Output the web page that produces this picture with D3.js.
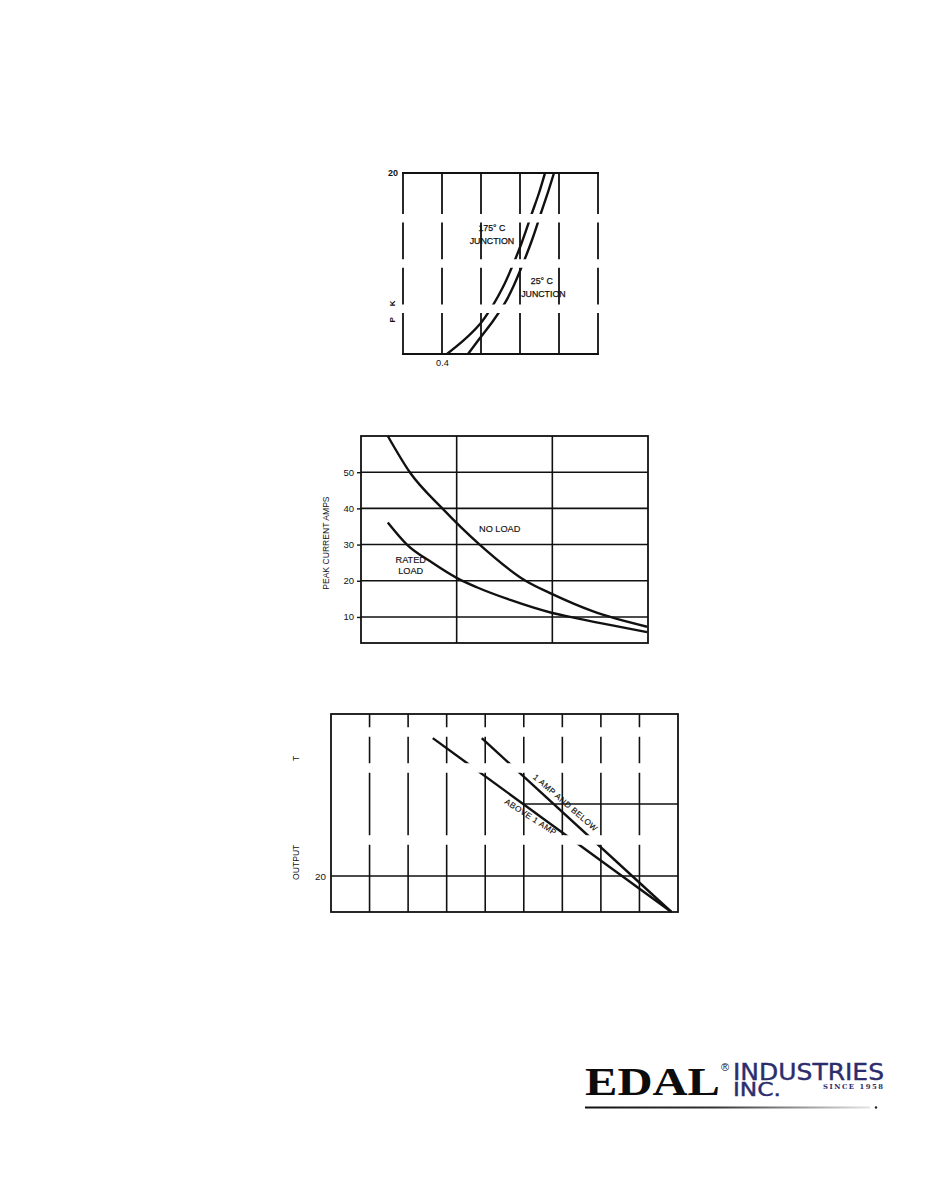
<!DOCTYPE html>
<html><head><meta charset="utf-8">
<script src="https://cdn.jsdelivr.net/npm/d3@7"></script>
<style>
html,body{margin:0;padding:0;background:#fff;}
svg{display:block;}
</style></head><body>
<svg id="c" width="930" height="1197" font-family="Liberation Sans, Arial, sans-serif" fill="#111"></svg>
<script>
// ---------- Chart 1 (top) ----------
const c1Cols = [0, 1, 2, 3, 4, 5];
const c1YDomain = [0, 20];
const c1XTickValues = [1];
const c1XTickLabels = ["0.4"];
const c1YTickValues = [20];
const c1YTickLabels = ["20"];
const c1ErasedRows = [5, 10, 15];
const c1Junction175 = [[1.128,0],[1.538,1.44],[1.974,3.31],[2.308,5.41],[2.564,7.40],[2.795,9.61],[3.051,12.38],[3.308,15.58],[3.487,17.79],[3.641,20]];
const c1Junction25  = [[1.667,0],[1.974,1.77],[2.308,3.65],[2.615,5.64],[2.846,7.62],[3.051,9.72],[3.308,12.60],[3.538,15.58],[3.718,17.90],[3.872,20]];

// ---------- Chart 2 (middle) ----------
const c2Cols = [0, 1, 2, 3];
const c2YDomain = [2.8, 60];
const c2YTicks = [10, 20, 30, 40, 50];
const c2NoLoad = [[0.28,60],[0.51,50],[0.85,40],[1.24,30],[1.72,20],[2.0,16.3],[2.42,11.6],[2.99,7.3]];
const c2RatedLoad = [[0.28,36.1],[0.48,30],[0.75,24.9],[1.0,20.8],[1.21,18.2],[1.56,14.7],[2.0,11.1],[2.26,9.6],[2.6,7.8],[2.99,5.8]];

// ---------- Chart 3 (bottom) ----------
const c3Cols = [0, 1, 2, 3, 4, 5, 6, 7, 8, 9];
const c3YDomain = [10, 65];
const c3YTicks = [20];
const c3PartialRow = {value: 40, from: 5, to: 9};
const c3ErasedRows = [30, 50, 60];
const c3AboveOneAmp = [[2.64,58.3],[8.83,10]];
const c3OneAmpBelow = [[3.91,58.3],[8.83,10]];

const svg = d3.select("#c");
const defs = svg.append("defs");
const INK = "#111";
const SANS = "Liberation Sans, Arial, sans-serif";

function makeMask(id, rows, y, x0, x1, h) {
  const m = defs.append("mask").attr("id", id).attr("maskUnits", "userSpaceOnUse")
    .attr("x", 0).attr("y", 0).attr("width", 930).attr("height", 1197);
  m.append("rect").attr("class","bg").attr("width", 930).attr("height", 1197).attr("fill", "#fff");
  m.selectAll("rect.gap").data(rows).join("rect").attr("class","gap")
    .attr("x", x0).attr("width", x1 - x0)
    .attr("y", d => y(d) - h / 2).attr("height", h).attr("fill", "#000");
}
function styleAxisText(sel, size, weight) {
  sel.selectAll("text").attr("font-size", size).attr("fill", INK).attr("font-family", SANS)
    .attr("font-weight", weight || "normal");
}

// ===== Chart 1 =====
{
  const x = d3.scaleLinear().domain([0, 5]).range([403, 598]);
  const y = d3.scaleLinear().domain(c1YDomain).range([354, 173]);
  const g = svg.append("g");
  makeMask("m1", c1ErasedRows, y, x(0) - 5, x(5) + 5, 8.5);
  const gm = g.append("g").attr("mask", "url(#m1)");
  gm.selectAll("line.v").data(c1Cols).join("line").attr("class","v")
    .attr("x1", d => x(d)).attr("x2", d => x(d))
    .attr("y1", y(20)).attr("y2", y(0))
    .attr("stroke", INK).attr("stroke-width", 1.8);
  const ln = d3.line().x(d => x(d[0])).y(d => y(d[1])).curve(d3.curveMonotoneY);
  [c1Junction175, c1Junction25].forEach(s => {
    gm.append("path").attr("d", ln(s)).attr("fill", "none")
      .attr("stroke", INK).attr("stroke-width", 2.4);
  });
  [20, 0].forEach(v => g.append("line").attr("x1", x(0) - 1).attr("x2", x(5) + 1)
    .attr("y1", y(v)).attr("y2", y(v)).attr("stroke", INK).attr("stroke-width", 1.8));
  const ax = d3.axisBottom(x).tickValues(c1XTickValues).tickFormat((d, i) => c1XTickLabels[i]).tickSize(0).tickPadding(5);
  const axg = g.append("g").attr("transform", `translate(0,${y(0)})`).call(ax);
  axg.select(".domain").remove();
  styleAxisText(axg, 9.2);
  const ay = d3.axisLeft(y).tickValues(c1YTickValues).tickFormat((d, i) => c1YTickLabels[i]).tickSize(0).tickPadding(5);
  const ayg = g.append("g").attr("transform", `translate(${x(0)},0)`).call(ay);
  ayg.select(".domain").remove();
  styleAxisText(ayg, 9, "bold");
  g.append("text").attr("transform", `translate(395,${y(4.7)}) rotate(-90)`)
    .attr("text-anchor", "middle").attr("font-size", 8).attr("font-weight", "bold")
    .style("white-space", "pre").text("P     K");
  const lab = (t, px, py) => g.append("text").attr("x", px).attr("y", py).attr("text-anchor", "middle")
    .attr("font-size", 8.8).attr("fill", INK).attr("stroke", INK).attr("stroke-width", 0.25).text(t);
  lab("175° C", x(2.28), y(13.6));
  lab("JUNCTION", x(2.28), y(12.15));
  lab("25° C", x(3.56), y(7.7));
  lab("JUNCTION", x(3.6), y(6.25));
}

// ===== Chart 2 =====
{
  const x = d3.scaleLinear().domain([0, 3]).range([361, 648]);
  const y = d3.scaleLinear().domain(c2YDomain).range([643, 436]);
  const g = svg.append("g");
  g.selectAll("line.h").data(c2YTicks).join("line").attr("class","h")
    .attr("x1", x(0)).attr("x2", x(3)).attr("y1", d => y(d)).attr("y2", d => y(d))
    .attr("stroke", INK).attr("stroke-width", 1.6);
  g.selectAll("line.v").data(c2Cols.slice(1, -1)).join("line").attr("class","v")
    .attr("x1", d => x(d)).attr("x2", d => x(d)).attr("y1", y(60)).attr("y2", y(c2YDomain[0]))
    .attr("stroke", INK).attr("stroke-width", 1.6);
  g.append("rect").attr("x", x(0)).attr("y", y(60)).attr("width", x(3) - x(0)).attr("height", y(c2YDomain[0]) - y(60))
    .attr("fill", "none").attr("stroke", INK).attr("stroke-width", 1.8);
  const ln = d3.line().x(d => x(d[0])).y(d => y(d[1])).curve(d3.curveMonotoneX);
  [c2NoLoad, c2RatedLoad].forEach(s => g.append("path").attr("d", ln(s)).attr("fill", "none")
    .attr("stroke", INK).attr("stroke-width", 2.4));
  const ay = d3.axisLeft(y).tickValues(c2YTicks).tickSize(4).tickPadding(3);
  const ayg = g.append("g").attr("transform", `translate(${x(0)},0)`).call(ay);
  ayg.select(".domain").remove();
  ayg.selectAll("line").attr("stroke", INK).attr("stroke-width", 1.4);
  styleAxisText(ayg, 9.5);
  g.append("text").attr("transform", `translate(329,${y(30.4)}) rotate(-90)`)
    .attr("text-anchor", "middle").attr("font-size", 8.6).attr("fill", INK).text("PEAK CURRENT AMPS");
  const lab = (t, px, py) => g.append("text").attr("x", px).attr("y", py).attr("text-anchor", "middle")
    .attr("font-size", 9.2).attr("fill", INK).attr("stroke", INK).attr("stroke-width", 0.15).text(t);
  lab("NO LOAD", x(1.45), y(33.5));
  lab("RATED", x(0.52), y(24.8));
  lab("LOAD", x(0.52), y(22.0));
}

// ===== Chart 3 =====
{
  const x = d3.scaleLinear().domain([0, 9]).range([331, 678]);
  const y = d3.scaleLinear().domain(c3YDomain).range([912, 714]);
  const g = svg.append("g");
  makeMask("m3", c3ErasedRows, y, x(0) + 1.5, x(9) - 1.5, 9.5);
  const gm = g.append("g").attr("mask", "url(#m3)");
  gm.selectAll("line.v").data(c3Cols.slice(1, -1)).join("line").attr("class","v")
    .attr("x1", d => x(d)).attr("x2", d => x(d)).attr("y1", y(65)).attr("y2", y(10))
    .attr("stroke", INK).attr("stroke-width", 1.6);
  const ln = d3.line().x(d => x(d[0])).y(d => y(d[1]));
  [c3AboveOneAmp, c3OneAmpBelow].forEach(s => gm.append("path").attr("d", ln(s)).attr("fill", "none")
    .attr("stroke", INK).attr("stroke-width", 2.4));
  g.selectAll("line.h").data(c3YTicks).join("line").attr("class","h")
    .attr("x1", x(0)).attr("x2", x(9)).attr("y1", d => y(d)).attr("y2", d => y(d))
    .attr("stroke", INK).attr("stroke-width", 1.6);
  g.append("line").attr("x1", x(c3PartialRow.from)).attr("x2", x(c3PartialRow.to))
    .attr("y1", y(c3PartialRow.value)).attr("y2", y(c3PartialRow.value))
    .attr("stroke", INK).attr("stroke-width", 1.6);
  g.append("rect").attr("x", x(0)).attr("y", y(65)).attr("width", x(9) - x(0)).attr("height", y(10) - y(65))
    .attr("fill", "none").attr("stroke", INK).attr("stroke-width", 1.8);
  const ay = d3.axisLeft(y).tickValues(c3YTicks).tickSize(0).tickPadding(5);
  const ayg = g.append("g").attr("transform", `translate(${x(0)},0)`).call(ay);
  ayg.select(".domain").remove();
  styleAxisText(ayg, 9.8);
  g.append("text").attr("transform", `translate(299,${y(23.8)}) rotate(-90)`)
    .attr("text-anchor", "middle").attr("font-size", 8.6).attr("fill", INK).text("OUTPUT");
  g.append("text").attr("transform", `translate(299,${y(52.7)}) rotate(-90)`)
    .attr("text-anchor", "middle").attr("font-size", 8.6).attr("fill", INK).text("T");
  function lineLabel(s, t, off, ang, text) {
    const p0 = [x(s[0][0]), y(s[0][1])], p1 = [x(s[1][0]), y(s[1][1])];
    const dx = p1[0] - p0[0], dy = p1[1] - p0[1], L = Math.hypot(dx, dy);
    const nx = dy / L, ny = -dx / L;
    const cx = p0[0] + t * dx + nx * off, cy = p0[1] + t * dy + ny * off;
    g.append("text").attr("transform", `translate(${cx},${cy}) rotate(${ang})`)
      .attr("text-anchor", "middle").attr("dy", "0.35em").attr("font-size", 8.2)
      .attr("fill", INK).attr("stroke", INK).attr("stroke-width", 0.15)
      .attr("letter-spacing", 0.5).text(text);
  }
  lineLabel(c3OneAmpBelow, 0.41, 9, 41, "1 AMP AND BELOW");
  lineLabel(c3AboveOneAmp, 0.425, -6, 33, "ABOVE 1 AMP");
}

// ===== Logo =====
{
  const g = svg.append("g");
  const NAVY = "#2c2d6c";
  const grad = defs.append("linearGradient").attr("id", "lg").attr("x1", "0%").attr("x2", "100%");
  grad.append("stop").attr("offset", "0%").attr("stop-color", "#111");
  grad.append("stop").attr("offset", "45%").attr("stop-color", "#333");
  grad.append("stop").attr("offset", "100%").attr("stop-color", "#e4e4e4");
  g.append("text").attr("x", 585).attr("y", 1095).attr("font-family", "Liberation Serif, Times New Roman, serif")
    .attr("font-weight", "bold").attr("font-size", 41).attr("textLength", 135)
    .attr("lengthAdjust", "spacingAndGlyphs").attr("fill", "#0c0c0c").text("EDAL");
  g.append("text").attr("x", 721).attr("y", 1071).attr("font-family", SANS).attr("font-size", 11).attr("fill", "#111").text("®");
  g.append("text").attr("x", 733).attr("y", 1080).attr("font-family", "DejaVu Sans, sans-serif")
    .attr("font-size", 23).attr("textLength", 151).attr("lengthAdjust", "spacingAndGlyphs")
    .attr("fill", NAVY).attr("stroke", NAVY).attr("stroke-width", 0.4).text("INDUSTRIES");
  g.append("text").attr("x", 733).attr("y", 1096).attr("font-family", "DejaVu Sans, sans-serif")
    .attr("font-size", 19.5).attr("textLength", 48).attr("lengthAdjust", "spacingAndGlyphs")
    .attr("fill", NAVY).attr("stroke", NAVY).attr("stroke-width", 0.4).text("INC.");
  g.append("text").attr("x", 823).attr("y", 1088.5).attr("font-family", "DejaVu Serif, serif")
    .attr("font-weight", "bold").attr("font-size", 6.8).attr("textLength", 60)
    .attr("lengthAdjust", "spacing").attr("fill", NAVY).text("SINCE 1958");
  g.append("rect").attr("x", 585).attr("y", 1106.5).attr("width", 285).attr("height", 2).attr("fill", "url(#lg)");
  g.append("circle").attr("cx", 876).attr("cy", 1107.5).attr("r", 1.2).attr("fill", "#222");
}
</script>
</body></html>
